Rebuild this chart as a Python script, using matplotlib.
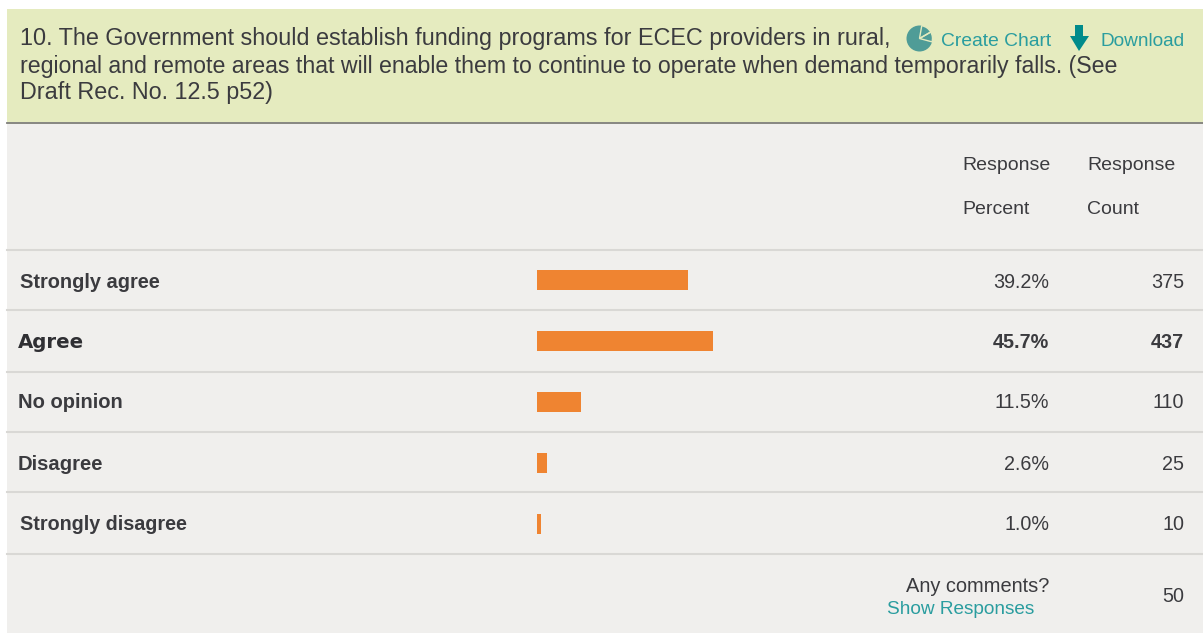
import matplotlib
matplotlib.use('Agg')
import matplotlib.pyplot as plt
from matplotlib.patches import Rectangle, Circle, Polygon, Wedge

categories = ['Strongly agree', 'Agree', 'No opinion', 'Disagree', 'Strongly disagree']
percents = [39.2, 45.7, 11.5, 2.6, 1.0]
counts = [375, 437, 110, 25, 10]
comment_count = 50

title_lines = [
    '10. The Government should establish funding programs for ECEC providers in rural,',
    'regional and remote areas that will enable them to continue to operate when demand temporarily falls. (See',
    'Draft Rec. No. 12.5 p52)',
]

W, H = 1203, 633
GREY = '#f0efed'
GREEN = '#e5ebbf'
DARK = '#3b3b3f'
TEAL = '#2a9d9f'
ORANGE = '#ef8431'

plt.rcParams['font.family'] = ['Liberation Sans', 'DejaVu Sans']

fig = plt.figure(figsize=(W / 100, H / 100), dpi=100, facecolor='white')

# page layer works in reference pixels
ax = fig.add_axes([0, 0, 1, 1])
ax.set_xlim(0, W)
ax.set_ylim(H, 0)
ax.axis('off')

ax.add_patch(Rectangle((7, 9), W - 7, 113, fc=GREEN, ec='none'))
ax.add_patch(Rectangle((7, 122), W - 7, H - 122, fc=GREY, ec='none'))
ax.plot([7, W], [122.5, 122.5], color='#7f7f78', lw=1.3)

for y in [250, 310, 372, 432, 492, 554]:
    ax.plot([7, W], [y, y], color='#d9d8d5', lw=1.5)

for y, size, line in zip([39, 66.5, 93], [16.8, 16.65, 16.85], title_lines):
    ax.text(20, y, line, fontsize=size, color=DARK, va='center', ha='left')

# pie icon
ax.add_patch(Circle((919.5, 38.5), 13, fc='#4f9c97', ec='none'))
ax.add_patch(Wedge((919.5, 38.5), 13, -80, -30, fc='none', ec=GREEN, lw=1))
ax.add_patch(Wedge((919.5, 38.5), 13, -30, 15, fc='none', ec=GREEN, lw=1))
ax.text(941, 41, 'Create Chart', fontsize=13.85, color=TEAL, va='center', ha='left')

# download arrow
ax.add_patch(Polygon([(1075, 25), (1083, 25), (1083, 36), (1089, 36),
                      (1079, 51), (1070, 36), (1075, 36)], fc='#008b8b', ec='none'))
ax.text(1101, 41, 'Download', fontsize=13.7, color=TEAL, va='center', ha='left')

# column headers
ax.text(962, 166, 'Response', fontsize=14.0, color=DARK, va='center', ha='left')
ax.text(962, 210, 'Percent', fontsize=14.0, color=DARK, va='center', ha='left')
ax.text(1087, 166, 'Response', fontsize=14.0, color=DARK, va='center', ha='left')
ax.text(1087, 210, 'Count', fontsize=14.0, color=DARK, va='center', ha='left')

# rows
label_x = [20, 18, 18, 18, 20]
label_size = [14.4, 14.2, 14.5, 14.6, 14.25]
row_y = [282, 342, 402.5, 464, 525]
for i, cat in enumerate(categories):
    top = i == int(max(range(len(percents)), key=lambda k: percents[k]))
    ax.text(label_x[i], row_y[i], cat, fontsize=label_size[i], fontweight='bold',
            family='DejaVu Sans' if top else None,
            color='#2f2f33' if top else DARK, va='center', ha='left')
    ax.text(1049, row_y[i], '%.1f%%' % percents[i], fontsize=14.2, color=DARK, va='center',
            ha='right', fontweight='bold' if top else 'normal')
    ax.text(1184, row_y[i], str(counts[i]), fontsize=14.2, color=DARK, va='center',
            ha='right', fontweight='bold' if top else 'normal')

ax.text(1049, 586, 'Any comments?', fontsize=14.4, color=DARK, va='center', ha='right')
ax.text(887, 610, 'Show Responses', fontsize=13.65, color=TEAL, va='center', ha='left')
ax.text(1184, 597, str(comment_count), fontsize=14.2, color=DARK, va='center', ha='right')

# bars, 100% = 385 px
bar_ax = fig.add_axes([537 / W, 1 - 554 / H, 385 / W, 304 / H])
bar_ax.set_xlim(0, 100)
bar_ax.set_ylim(len(categories) - 0.5, -0.5)
bar_ax.axis('off')
bar_ax.barh(range(len(categories)), percents, height=0.33, color=ORANGE, edgecolor='none')

fig.savefig('out.png', dpi=100)
